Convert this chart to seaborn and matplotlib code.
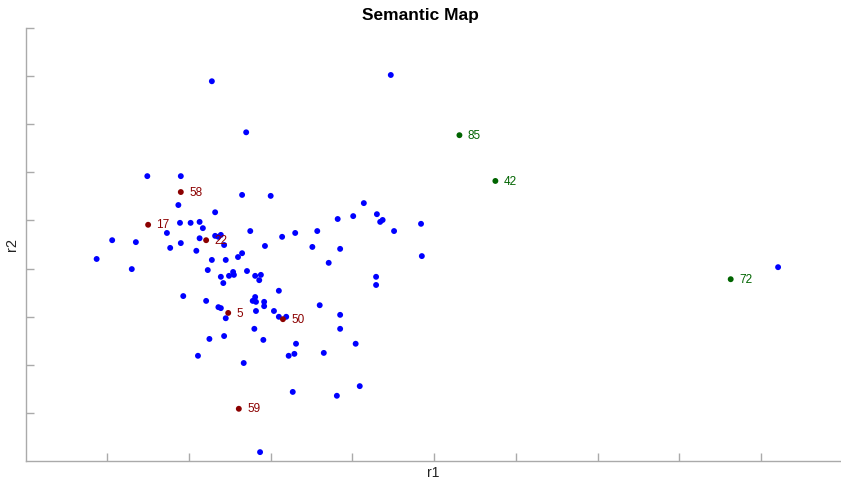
import pandas as pd
import matplotlib
matplotlib.use('Agg')
import matplotlib.pyplot as plt
import seaborn as sns

# puntos generales (azul)
x_blue = [2.28, 4.47, 2.70, 1.49, 1.90, 2.65, 3.00, 1.87, 4.14, 2.32,
          3.82, 4.01, 4.30, 4.34, 4.37, 4.84, 4.51, 1.89, 2.02, 2.13,
          2.17, 1.73, 2.13, 2.32, 2.39, 2.36, 2.43, 2.75, 3.14, 3.30,
          3.57, 1.06, 1.35, 1.90, 1.77, 2.09, 2.65, 2.60, 2.93, 3.51,
          3.85, 4.85, 0.87, 2.28, 2.45, 1.30, 3.71, 2.23, 2.39, 2.42,
          2.49, 2.54, 2.55, 2.71, 2.81, 2.88, 2.86, 4.29, 4.29, 1.93,
          2.21, 2.36, 2.39, 2.45, 2.81, 2.78, 2.82, 2.92, 2.92, 3.10,
          2.82, 3.04, 3.10, 3.19, 3.60, 3.85, 3.85, 2.80, 2.91, 2.43,
          2.25, 2.11, 2.67, 3.22, 3.29, 3.31, 3.65, 4.04, 4.09, 3.27,
          3.81, 2.87, 9.21]
y_blue = [7.89, 8.02, 6.83, 5.92, 5.92, 5.53, 5.51, 5.32, 5.36, 5.17,
          5.03, 5.09, 5.13, 4.97, 5.01, 4.93, 4.78, 4.95, 4.95, 4.97,
          4.84, 4.74, 4.63, 4.68, 4.70, 4.66, 4.49, 4.78, 4.66, 4.74,
          4.78, 4.59, 4.55, 4.53, 4.43, 4.37, 4.32, 4.24, 4.47, 4.45,
          4.41, 4.26, 4.20, 4.18, 4.18, 3.99, 4.12, 3.97, 3.83, 3.70,
          3.85, 3.93, 3.87, 3.95, 3.85, 3.87, 3.76, 3.83, 3.66, 3.43,
          3.33, 3.20, 3.18, 2.97, 3.41, 3.33, 3.31, 3.31, 3.22, 3.54,
          3.12, 3.12, 3.00, 3.00, 3.24, 3.04, 2.75, 2.75, 2.52, 2.60,
          2.54, 2.19, 2.04, 2.19, 2.23, 2.44, 2.25, 2.44, 1.56, 1.44,
          1.36, 0.19, 4.03]

# puntos marcados en rojo
red_ids = ['58', '17', '22', '5', '50', '59']
x_red = [1.90, 1.50, 2.21, 2.48, 3.15, 2.61]
y_red = [5.59, 4.91, 4.59, 3.08, 2.95, 1.09]

# puntos marcados en verde
green_ids = ['85', '42', '72']
x_green = [5.31, 5.75, 8.63]
y_green = [6.77, 5.82, 3.78]

df = pd.concat([
    pd.DataFrame({'r1': x_blue, 'r2': y_blue, 'grupo': 'otros', 'id': ''}),
    pd.DataFrame({'r1': x_red, 'r2': y_red, 'grupo': 'rojo', 'id': red_ids}),
    pd.DataFrame({'r1': x_green, 'r2': y_green, 'grupo': 'verde', 'id': green_ids}),
], ignore_index=True)

colores = {'otros': '#0000ff', 'rojo': '#8b0000', 'verde': '#006400'}

sns.set_style('white')
plt.rcParams['font.family'] = ['Liberation Sans', 'DejaVu Sans']

fig = plt.figure(figsize=(8.41, 4.79), dpi=100)
ax = fig.add_axes([0.0304, 0.037, 0.9696, 0.905])

sns.scatterplot(data=df, x='r1', y='r2', hue='grupo', palette=colores,
                s=18, linewidth=0, legend=False, ax=ax)

# etiquetas de los puntos destacados
for _, fila in df[df['grupo'] != 'otros'].iterrows():
    ax.annotate(fila['id'], (fila['r1'], fila['r2']), xytext=(6, -0.5),
                textcoords='offset points', va='center', ha='left',
                fontsize=8.5, color=colores[fila['grupo']])

ax.set_xlim(0, 9.98)
ax.set_ylim(0, 9)
ax.set_xticks(range(1, 10))
ax.set_yticks(range(1, 10))
ax.set_xticklabels([])
ax.set_yticklabels([])
ax.tick_params(direction='in', length=6, color='#aaaaaa', width=1,
               bottom=True, left=True)
sns.despine(ax=ax)
for lado in ['left', 'bottom']:
    ax.spines[lado].set_color('#aaaaaa')
    ax.spines[lado].set_linewidth(1)

ax.set_xlabel('r1', fontsize=10, color='#222222', labelpad=0)
ax.set_ylabel('r2', fontsize=10.5, color='#222222', labelpad=1)
fig.text(0.5, 0.968, 'Semantic Map', ha='center', va='center',
         fontsize=12.5, fontweight='bold', color='black')

fig.savefig('out.png', dpi=100)
